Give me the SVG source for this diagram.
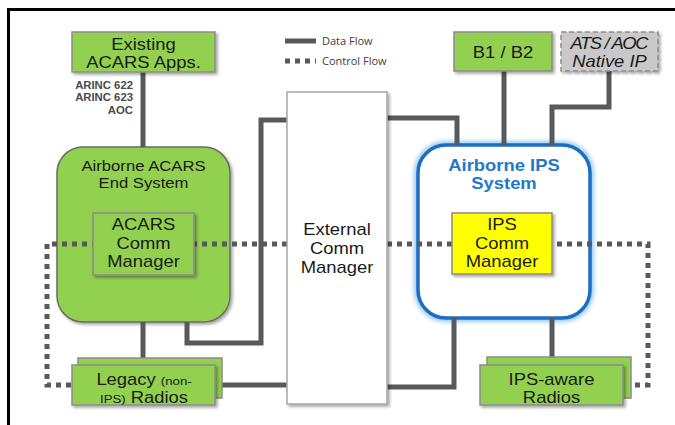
<svg xmlns="http://www.w3.org/2000/svg" width="675" height="425" viewBox="0 0 675 425">
<defs>
<filter id="sh" x="-10%" y="-10%" width="130%" height="130%">
<feDropShadow dx="2" dy="2" stdDeviation="1.5" flood-color="#000" flood-opacity="0.35"/>
</filter>
<filter id="glow" x="-10%" y="-10%" width="120%" height="120%">
<feGaussianBlur stdDeviation="2"/>
</filter>
</defs>
<style>
.t{font-family:"Liberation Sans",Arial,sans-serif;font-size:16px;fill:#1a1a1a;text-anchor:middle}
.g{fill:#92d050;stroke:#8c8c8c;stroke-width:1.5}
.data{fill:none;stroke:#595959;stroke-width:5}
.ctrl{fill:none;stroke:#595959;stroke-width:5;stroke-dasharray:5 5}
.leg{font-family:"Open Sans","Liberation Sans",sans-serif;font-size:11px;fill:#404040}
.arinc{font-family:"Liberation Sans",Arial,sans-serif;font-size:10.5px;font-weight:bold;fill:#4a4a4a;text-anchor:end}
.s{font-size:11.5px}
</style>
<rect width="675" height="425" fill="#fff"/>
<path d="M7 9.5H675M8.5 8V425" stroke="#000" stroke-width="3" fill="none"/>

<g id="legend">
<line x1="285" y1="41" x2="316" y2="41" class="data"/>
<line x1="285" y1="61" x2="316" y2="61" class="ctrl"/>
<text x="322" y="45" class="leg">Data Flow</text>
<text x="322" y="64.5" class="leg">Control Flow</text>
</g>

<g id="acars-end-system">
<rect x="57" y="147" width="173" height="175" rx="26" fill="#92d050" stroke="#6b6b6b" stroke-width="1.5" filter="url(#sh)"/>
<text class="t" transform="matrix(1.15 0 0 1 143.5 0)" y="171" style="font-size:14.5px">Airborne ACARS</text>
<text class="t" transform="matrix(1.15 0 0 1 143.5 0)" y="188" style="font-size:14.5px">End System</text>
</g>

<g id="ips-system">
<rect x="418" y="145" width="172" height="173" rx="28" fill="none" stroke="#9cc8ee" stroke-width="8" filter="url(#glow)"/>
<rect x="418" y="145" width="172" height="173" rx="28" fill="#fff" stroke="#1a6fc4" stroke-width="3.5"/>
<text class="t" transform="matrix(1.15 0 0 1 504 0)" y="171" style="font-size:16px;font-weight:bold;fill:#1f78c8">Airborne IPS</text>
<text class="t" transform="matrix(1.15 0 0 1 504 0)" y="189" style="font-size:16px;font-weight:bold;fill:#1f78c8">System</text>
</g>

<g id="connectors">
<path class="data" d="M143 72V147"/>
<path class="data" d="M143 322V358"/>
<path class="data" d="M187 322V343H261V120H287"/>
<path class="data" d="M222 385H287"/>
<path class="data" d="M387 118H457V145"/>
<path class="data" d="M504 71V145"/>
<path class="data" d="M609 71V107H552V145"/>
<path class="data" d="M454 318V387H387"/>
<path class="data" d="M552 318V357"/>
<path class="ctrl" d="M287 244H47V385H72"/>
<path class="ctrl" d="M387 244H648V385H631"/>
</g>

<g id="existing-acars-apps">
<rect class="g" x="72" y="32" width="143" height="40" filter="url(#sh)"/>
<text class="t" transform="matrix(1.15 0 0 1 143.5 0)" y="50.5">Existing</text>
<text class="t" transform="matrix(1.15 0 0 1 143.5 0)" y="68.5">ACARS Apps.</text>
<text class="arinc" transform="matrix(1.08 0 0 1 133 0)" y="89">ARINC 622</text>
<text class="arinc" transform="matrix(1.08 0 0 1 133 0)" y="101.5">ARINC 623</text>
<text class="arinc" transform="matrix(1.08 0 0 1 133 0)" y="114">AOC</text>
</g>

<g id="acars-comm-manager">
<rect class="g" x="93" y="213" width="101" height="62" filter="url(#sh)"/>
<text class="t" transform="matrix(1.15 0 0 1 143.5 0)" y="230.5">ACARS</text>
<text class="t" transform="matrix(1.15 0 0 1 143.5 0)" y="249">Comm</text>
<text class="t" transform="matrix(1.15 0 0 1 143.5 0)" y="267.5">Manager</text>
</g>

<g id="external-comm-manager">
<rect x="287" y="92" width="100" height="312" fill="#fff" stroke="#a6a6a6" stroke-width="1.5" filter="url(#sh)"/>
<text class="t" transform="matrix(1.15 0 0 1 337 0)" y="235">External</text>
<text class="t" transform="matrix(1.15 0 0 1 337 0)" y="254">Comm</text>
<text class="t" transform="matrix(1.15 0 0 1 337 0)" y="273">Manager</text>
</g>

<g id="b1-b2">
<rect class="g" x="454" y="32" width="98" height="39" filter="url(#sh)"/>
<text class="t" transform="matrix(1.15 0 0 1 503 0)" y="58">B1 / B2</text>
</g>

<g id="ats-aoc-native-ip">
<rect x="561" y="32" width="97" height="39" fill="#c9c9c9" stroke="#8c8c8c" stroke-width="1.5" stroke-dasharray="5 3" filter="url(#sh)"/>
<text class="t" transform="matrix(1.15 0 0 1 609.5 0)" y="49" textLength="68" style="font-style:italic">ATS / AOC</text>
<text class="t" transform="matrix(1.15 0 0 1 609.5 0)" y="67" style="font-style:italic">Native IP</text>
</g>

<g id="ips-comm-manager">
<rect x="452" y="213" width="100" height="61" fill="#ffff00" stroke="#8c8c8c" stroke-width="1.5" filter="url(#sh)"/>
<text class="t" transform="matrix(1.15 0 0 1 502 0)" y="230.5">IPS</text>
<text class="t" transform="matrix(1.15 0 0 1 502 0)" y="249">Comm</text>
<text class="t" transform="matrix(1.15 0 0 1 502 0)" y="267.5">Manager</text>
</g>

<g id="legacy-radios">
<rect class="g" x="78" y="358" width="144" height="40"/>
<rect class="g" x="72" y="365" width="143" height="40" filter="url(#sh)"/>
<text class="t" transform="matrix(1.15 0 0 1 144 0)" y="385.5">Legacy <tspan class="s">(non-</tspan></text>
<text class="t" transform="matrix(1.15 0 0 1 144 0)" y="403"><tspan class="s">IPS)</tspan> Radios</text>
</g>

<g id="ips-aware-radios">
<rect class="g" x="487" y="357" width="144" height="41"/>
<rect class="g" x="480" y="365" width="143" height="40" filter="url(#sh)"/>
<text class="t" transform="matrix(1.15 0 0 1 551.5 0)" y="385.5">IPS-aware</text>
<text class="t" transform="matrix(1.15 0 0 1 551.5 0)" y="403">Radios</text>
</g>
</svg>
